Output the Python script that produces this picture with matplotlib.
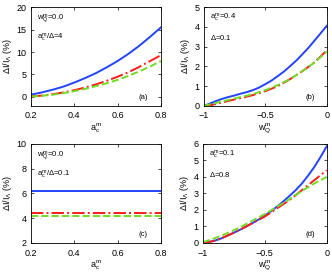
import numpy as np
import matplotlib.pyplot as plt

plt.rcParams['font.family'] = ['Liberation Sans', 'DejaVu Sans']
plt.rcParams['mathtext.fontset'] = 'custom'
plt.rcParams['mathtext.rm'] = 'Liberation Sans'
plt.rcParams['mathtext.it'] = 'Liberation Sans'
plt.rcParams['font.size'] = 6.5

# panel (a): vs a_c^m
ac = [0.2, 0.25, 0.3, 0.35, 0.4, 0.45, 0.5, 0.55, 0.6, 0.65, 0.7, 0.75, 0.8]
a_blue = [0.5, 1.0, 1.6, 2.3, 3.2, 4.2, 5.3, 6.6, 8.0, 9.6, 11.4, 13.4, 15.5]
a_red = [0.1, 0.3, 0.6, 1.0, 1.5, 2.1, 2.8, 3.6, 4.5, 5.5, 6.7, 8.0, 9.3]
a_green = [0.1, 0.25, 0.5, 0.85, 1.3, 1.8, 2.4, 3.05, 3.8, 4.7, 5.7, 6.8, 8.0]

# panel (b): vs w_Q^m
wq = [-1.0, -0.95, -0.9, -0.85, -0.8, -0.75, -0.7, -0.65, -0.6, -0.55, -0.5,
      -0.45, -0.4, -0.35, -0.3, -0.25, -0.2, -0.15, -0.1, -0.05, 0.0]
b_blue = [0.0, 0.12, 0.25, 0.36, 0.45, 0.53, 0.62, 0.7, 0.8, 0.93, 1.1,
          1.28, 1.5, 1.73, 2.0, 2.28, 2.6, 2.93, 3.3, 3.67, 4.05]
b_red = [-0.05, 0.03, 0.1, 0.18, 0.25, 0.33, 0.4, 0.47, 0.55, 0.65, 0.75,
         0.87, 1.0, 1.17, 1.35, 1.55, 1.75, 1.97, 2.2, 2.5, 2.8]
b_green = [0.0, 0.08, 0.15, 0.23, 0.3, 0.38, 0.45, 0.52, 0.6, 0.7, 0.8,
           0.92, 1.05, 1.2, 1.35, 1.55, 1.75, 1.97, 2.2, 2.47, 2.75]

# panel (c): flat lines
c_blue = [6.2] * len(ac)
c_red = [4.4] * len(ac)
c_green = [4.15] * len(ac)

# panel (d)
d_blue = [0.0, 0.06, 0.15, 0.28, 0.45, 0.62, 0.8, 1.0, 1.2, 1.42, 1.65,
          1.92, 2.2, 2.52, 2.85, 3.2, 3.6, 4.08, 4.6, 5.2, 5.85]
d_red = [-0.05, 0.05, 0.15, 0.28, 0.45, 0.62, 0.8, 1.0, 1.2, 1.4, 1.6,
         1.85, 2.1, 2.35, 2.6, 2.9, 3.2, 3.5, 3.8, 4.1, 4.4]
d_green = [0.05, 0.17, 0.3, 0.45, 0.6, 0.77, 0.95, 1.15, 1.35, 1.55, 1.75,
           1.97, 2.2, 2.42, 2.65, 2.9, 3.15, 3.37, 3.6, 3.8, 4.0]

blue = '#2244ff'
red = '#ff1a1a'
green = '#70dd22'

fig = plt.figure(figsize=(3.32, 2.73), dpi=100)
ax_a = fig.add_axes([0.093, 0.612, 0.392, 0.362])
ax_b = fig.add_axes([0.614, 0.612, 0.370, 0.362])
ax_c = fig.add_axes([0.093, 0.110, 0.392, 0.363])
ax_d = fig.add_axes([0.611, 0.110, 0.373, 0.363])

ylab = r'$\Delta I/I_{\Lambda}$ (%)'

panels = [
    (ax_a, ac, a_blue, a_red, a_green, (0.2, 0.8), (-2, 20), [0, 5, 10, 15, 20],
     [0.2, 0.4, 0.6, 0.8], r'$a_c^m$', [r'$w_Q^m$=0.0', r'$a_c^m/\Delta$=4'], '(a)'),
    (ax_b, wq, b_blue, b_red, b_green, (-1, 0), (0, 5), [0, 1, 2, 3, 4, 5],
     [-1, -0.5, 0], r'$w_Q^m$', [r'$a_c^m$=0.4', r'$\Delta$=0.1'], '(b)'),
    (ax_c, ac, c_blue, c_red, c_green, (0.2, 0.8), (2, 10), [2, 4, 6, 8, 10],
     [0.2, 0.4, 0.6, 0.8], r'$a_c^m$', [r'$w_Q^m$=0.0', r'$a_c^m/\Delta$=0.1'], '(c)'),
    (ax_d, wq, d_blue, d_red, d_green, (-1, 0), (0, 6), [0, 1, 2, 3, 4, 5, 6],
     [-1, -0.5, 0], r'$w_Q^m$', [r'$a_c^m$=0.1', r'$\Delta$=0.8'], '(d)'),
]

for ax, x, yb, yr, yg, xl, yl, yt, xt, xlab, notes, tag in panels:
    ax.plot(x, yb, color=blue, lw=1.4)
    ax.plot(x, yr, color=red, lw=1.4, ls='-.')
    ax.plot(x, yg, color=green, lw=1.4, ls='--')
    ax.set_xlim(*xl)
    ax.set_ylim(*yl)
    ax.set_yticks(yt)
    ax.set_xticks(xt)
    ax.set_xticklabels([('%g' % v).replace('-', '\u2212') for v in xt])
    ax.tick_params(direction='in', length=2, width=0.5, top=True, right=True)
    ax.tick_params(axis='x', pad=4)
    ax.tick_params(axis='y', pad=3)
    for s in ax.spines.values():
        s.set_linewidth(0.6)
    ax.set_xlabel(xlab, labelpad=1)
    ax.set_ylabel(ylab, labelpad=2)
    ax.text(0.05, 0.87, notes[0], transform=ax.transAxes, fontsize=5.5)
    ax.text(0.05, 0.67, notes[1], transform=ax.transAxes, fontsize=5.5)
    ax.text(0.83, 0.07, tag, transform=ax.transAxes, fontsize=5.5)

fig.savefig('out.png', dpi=100)
